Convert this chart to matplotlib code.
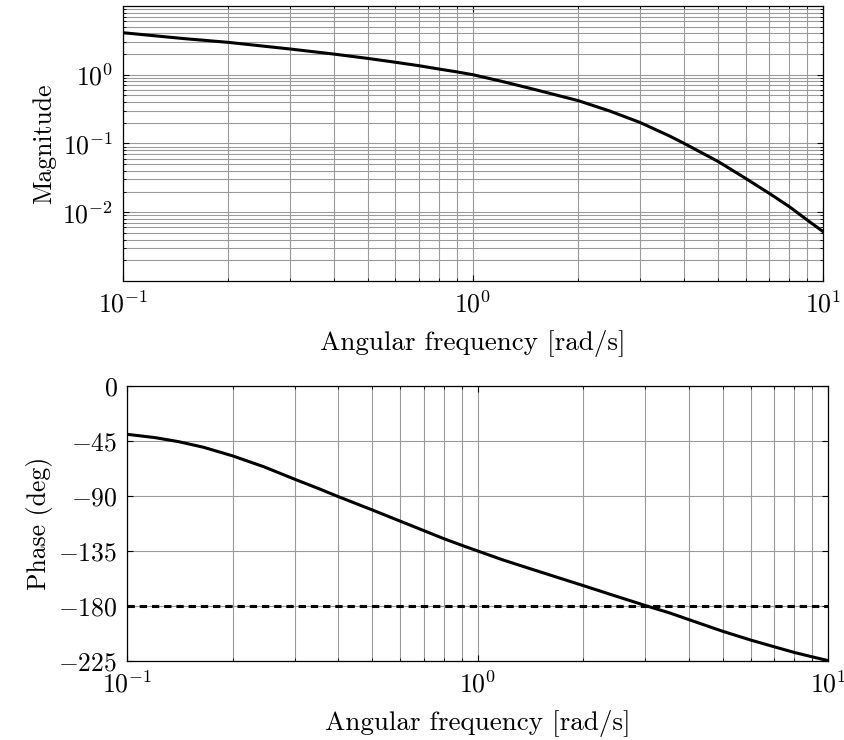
import matplotlib
matplotlib.use("Agg")
import matplotlib.pyplot as plt
from matplotlib.ticker import LogLocator, FixedLocator, NullFormatter

plt.rcParams['font.family'] = 'serif'
plt.rcParams['font.serif'] = ['cmr10']
plt.rcParams['mathtext.fontset'] = 'cm'
plt.rcParams['axes.formatter.use_mathtext'] = True

# values
mag_freq = [0.1, 0.15, 0.2, 0.3, 0.4, 0.5, 0.6, 0.7, 0.8, 0.9, 1.0,
            1.22, 1.52, 2.0, 2.46, 3.0, 3.64, 4.0, 5.0, 6.0, 7.0, 8.0, 9.0, 10.0]
magnitude = [4.09, 3.35, 2.96, 2.37, 2.00, 1.73, 1.52, 1.355, 1.21, 1.10, 1.0,
             0.792, 0.600, 0.419, 0.296, 0.202, 0.1285, 0.1007, 0.055, 0.0311,
             0.0189, 0.01205, 0.0077, 0.0052]
phase_freq = [0.1, 0.12, 0.14, 0.165, 0.2, 0.245, 0.3, 0.35, 0.4, 0.5, 0.6, 0.7,
              0.8, 0.9, 1.0, 1.18, 1.47, 2.0, 2.44, 3.0, 3.53, 4.0, 5.0, 6.0,
              7.0, 8.0, 9.0, 10.0]
phase = [-39.8, -42.5, -45.8, -50.4, -57.5, -66.3, -76.5, -84.0, -90.8, -101.7,
         -110.8, -118.5, -125.2, -130.6, -135.3, -142.6, -151.4, -163.6, -171.6,
         -179.8, -186.0, -191.4, -201.0, -208.1, -213.6, -218.3, -221.9, -225.0]
phase_ticks = [0, -45, -90, -135, -180, -225]
mag_ticks = [1e-2, 1e-1, 1e0]
ref_phase = -180

fs = 18.5
label_fs = 19.5
grid_col = '#9a9a9a'

fig = plt.figure(figsize=(8.45, 7.4), dpi=100)
ax1 = fig.add_axes([0.1452, 0.6203, 0.8291, 0.3716])
ax2 = fig.add_axes([0.1507, 0.1072, 0.8296, 0.3716])

ax1.loglog(mag_freq, magnitude, color='black', lw=2.2, zorder=3)
ax1.set_xlim(0.1, 10)
ax1.set_ylim(1e-3, 1e1)
ax1.yaxis.set_major_locator(FixedLocator(mag_ticks))
ax1.yaxis.set_minor_locator(LogLocator(base=10, subs=range(2, 10), numticks=20))
ax1.yaxis.set_minor_formatter(NullFormatter())
ax1.set_ylabel('Magnitude', fontsize=fs)
ax1.set_xlabel('Angular frequency [rad/s]', fontsize=label_fs, labelpad=9)
ax1.grid(True, which='both', color=grid_col, lw=0.8)

ax2.semilogx(phase_freq, phase, color='black', lw=2.2, zorder=3)
ax2.axhline(ref_phase, color='black', lw=2.2, dashes=(2.4, 1.6), zorder=3)
ax2.set_xlim(0.1, 10)
ax2.set_ylim(-225, 0)
ax2.set_yticks(phase_ticks)
ax2.set_yticklabels([r'$%d$' % t for t in phase_ticks])
ax2.set_ylabel('Phase (deg)', fontsize=fs)
ax2.set_xlabel('Angular frequency [rad/s]', fontsize=label_fs, labelpad=9)
ax2.grid(True, which='major', axis='y', color=grid_col, lw=0.8)
ax2.grid(True, which='both', axis='x', color=grid_col, lw=0.8)

for ax in (ax1, ax2):
    ax.xaxis.set_minor_formatter(NullFormatter())
    ax.tick_params(which='both', direction='in', top=True, right=True,
                   labelsize=fs, pad=7)
    ax.tick_params(which='major', length=4, width=0.8)
    ax.tick_params(which='minor', length=2, width=0.6)
    for s in ax.spines.values():
        s.set_linewidth(0.9)

fig.savefig('out.png', dpi=100)
